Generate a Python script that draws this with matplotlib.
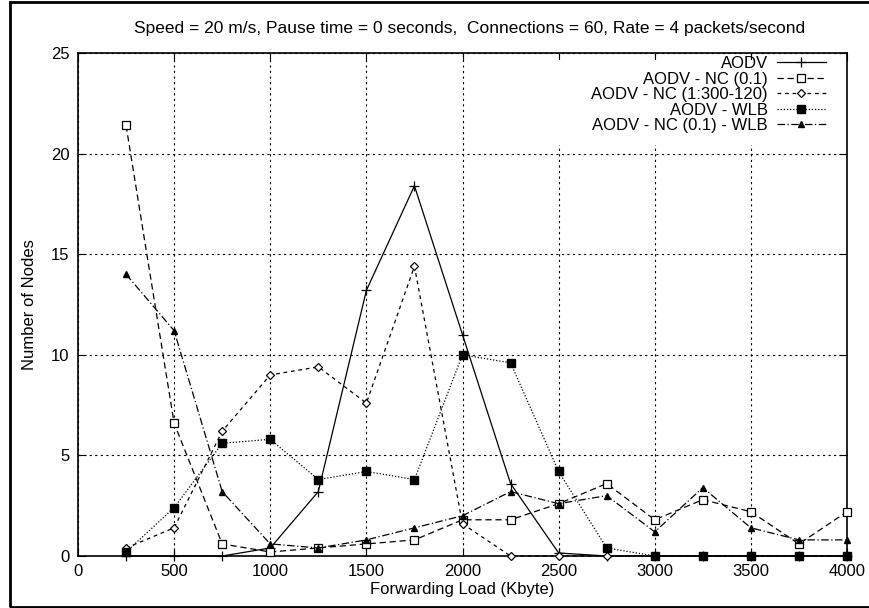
import matplotlib
matplotlib.use("Agg")
import matplotlib.pyplot as plt
from matplotlib.patches import Rectangle

plt.rcParams['font.family'] = ['Liberation Sans', 'DejaVu Sans']

load = [250, 500, 750, 1000, 1250, 1500, 1750, 2000,
        2250, 2500, 2750, 3000, 3250, 3500, 3750, 4000]

aodv = [0, 0, 0, 0.4, 3.2, 13.2, 18.4, 11.0,
        3.6, 0.15, 0, 0, 0, 0, 0, 0]
aodv_nc = [21.4, 6.6, 0.6, 0.2, 0.4, 0.6, 0.8, 1.8,
           1.8, 2.6, 3.6, 1.8, 2.8, 2.2, 0.6, 2.2]
aodv_nc_var = [0.4, 1.4, 6.2, 9.0, 9.4, 7.6, 14.4, 1.6,
               0, 0, 0, 0, 0, 0, 0, 0]
aodv_wlb = [0.2, 2.4, 5.6, 5.8, 3.8, 4.2, 3.8, 10.0,
            9.6, 4.2, 0.4, 0, 0, 0, 0, 0]
aodv_nc_wlb = [14.0, 11.2, 3.2, 0.6, 0.4, 0.8, 1.4, 2.0,
               3.2, 2.6, 3.0, 1.2, 3.4, 1.4, 0.8, 0.8]

labels = ["AODV", "AODV - NC (0.1)", "AODV - NC (1:300-120)",
          "AODV - WLB", "AODV - NC (0.1) - WLB"]

fig = plt.figure(figsize=(8.69, 6.08), dpi=100)
ax = fig.add_axes([78/869, 52/608, 769/869, 503/608])

lw = 0.9
common = dict(color="black", lw=lw, clip_on=False, zorder=3)
ax.plot(load, aodv, ls="-", marker="+", ms=7, mew=0.9,
        label=labels[0], **common)
ax.plot(load, aodv_nc, ls=(0, (5, 3)), marker="s", ms=6, mfc="white",
        mew=0.9, label=labels[1], **common)
ax.plot(load, aodv_nc_var, ls=(0, (3, 3)), marker="D", ms=4, mfc="white",
        mew=0.9, label=labels[2], **common)
ax.plot(load, aodv_wlb, ls=(0, (1, 1.5)), marker="s", ms=6, mfc="black",
        label=labels[3], **common)
ax.plot(load, aodv_nc_wlb, ls=(0, (6, 2, 1, 2)), marker="^", ms=5,
        mfc="black", label=labels[4], **common)

ax.set_xlim(0, 4000)
ax.set_ylim(0, 25)
ax.set_xticks(range(0, 4001, 500))
ax.set_yticks(range(0, 26, 5))
ax.grid(True, color="black", ls=(0, (2, 3)), lw=0.8)
ax.set_axisbelow(True)
ax.tick_params(direction="in", top=True, right=True, length=6,
               labelsize=12, colors="black", pad=6)
for s in ax.spines.values():
    s.set_linewidth(1.2)

ax.set_xlabel("Forwarding Load (Kbyte)", fontsize=12, labelpad=2)
ax.set_ylabel("Number of Nodes", fontsize=12, labelpad=10)
fig.text(470/869, 1 - 28/608,
         "Speed = 20 m/s, Pause time = 0 seconds,  Connections = 60, Rate = 4 packets/second",
         ha="center", va="center", fontsize=12.5)

# gnuplot blanks the grid behind the key (leave the top ticks visible)
ax.add_patch(Rectangle((0.6, 0.817), 0.4, 0.169, transform=ax.transAxes,
                       facecolor="white", edgecolor="none", zorder=1))

leg = ax.legend(loc="upper right", bbox_to_anchor=(0.9727, 0.994),
                frameon=False, markerfirst=False, fontsize=12,
                handlelength=2.95, labelspacing=0.03, borderpad=0,
                borderaxespad=0, handletextpad=0.55)
for t in leg.get_texts():
    t.set_ha("right")
leg._legend_box.align = "right"

fig.patches.append(Rectangle((10/869, 1/608), 870/869, 605/608,
                             transform=fig.transFigure, fill=False,
                             edgecolor="black", lw=2))

fig.savefig("out.png", dpi=100)
